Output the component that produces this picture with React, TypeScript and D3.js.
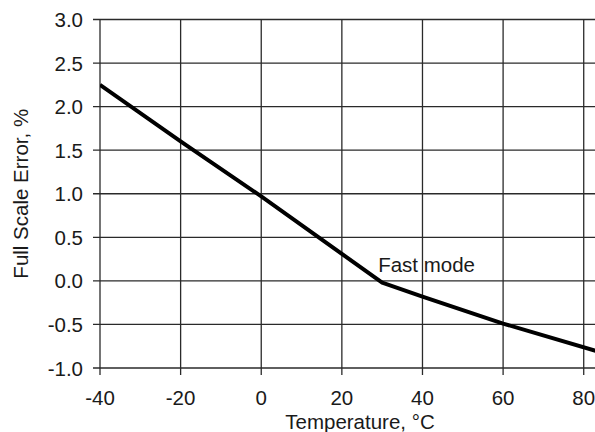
import React from "react";
import * as d3 from "d3";

const temps = [-40, -20, 0, 20, 30, 40, 60, 85];
const errors = [2.25, 1.6, 0.97, 0.31, -0.02, -0.18, -0.49, -0.83];
const xTicks = [-40, -20, 0, 20, 40, 60, 80];
const yTicks = [3.0, 2.5, 2.0, 1.5, 1.0, 0.5, 0.0, -0.5, -1.0];
const annotation = { text: "Fast mode", t: 30, v: -0.02 };
const xTitle = "Temperature, °C";
const yTitle = "Full Scale Error, %";

const W = 595;
const H = 432;
const FONT = "'Liberation Sans', Arial, sans-serif";

export default function App() {
  const x = d3.scaleLinear().domain([-40, 89]).range([100, 620]);
  const y = d3.scaleLinear().domain([-1, 3]).range([368, 19.5]);
  const line = d3
    .line<number>()
    .x((_, i) => x(temps[i]))
    .y((d) => y(d));
  const x0 = x(-40);
  const y0 = y(-1);
  const grid = "#2a2a2a";
  const textStyle: React.CSSProperties = {
    fontFamily: FONT,
    fontSize: 20.5,
    fill: "#1a1a1a",
  };
  return (
    <svg
      width={W}
      height={H}
      style={{ position: "absolute", left: 0, top: 0, background: "#fff" }}
    >
      <defs>
        <clipPath id="plotclip">
          <rect x={x0} y={y(3) - 2} width={W - x0} height={y0 - y(3) + 4} />
        </clipPath>
      </defs>
      {yTicks.map((t) => (
        <line
          key={"h" + t}
          x1={x0 - 7}
          x2={W}
          y1={y(t)}
          y2={y(t)}
          stroke={grid}
          strokeWidth={1.3}
        />
      ))}
      {xTicks.map((t) => (
        <line
          key={"v" + t}
          x1={x(t)}
          x2={x(t)}
          y1={y(3)}
          y2={y0 + 7}
          stroke={grid}
          strokeWidth={1.3}
        />
      ))}
      <path
        d={line(errors) || ""}
        fill="none"
        stroke="#000"
        strokeWidth={4}
        strokeLinejoin="round"
        clipPath="url(#plotclip)"
      />
      {yTicks.map((t) => (
        <text
          key={"yl" + t}
          x={83}
          y={y(t) + 7.5}
          textAnchor="end"
          style={textStyle}
        >
          {t.toFixed(1)}
        </text>
      ))}
      {xTicks.map((t) => (
        <text
          key={"xl" + t}
          x={x(t)}
          y={405}
          textAnchor="middle"
          style={textStyle}
        >
          {t}
        </text>
      ))}
      <text
        x={x(annotation.t) - 4}
        y={y(annotation.v) - 11}
        style={textStyle}
      >
        {annotation.text}
      </text>
      <text x={360} y={429} textAnchor="middle" style={textStyle}>
        {xTitle}
      </text>
      <text
        transform={`translate(28, ${(y(3) + y0) / 2}) rotate(-90)`}
        textAnchor="middle"
        style={textStyle}
      >
        {yTitle}
      </text>
    </svg>
  );
}
